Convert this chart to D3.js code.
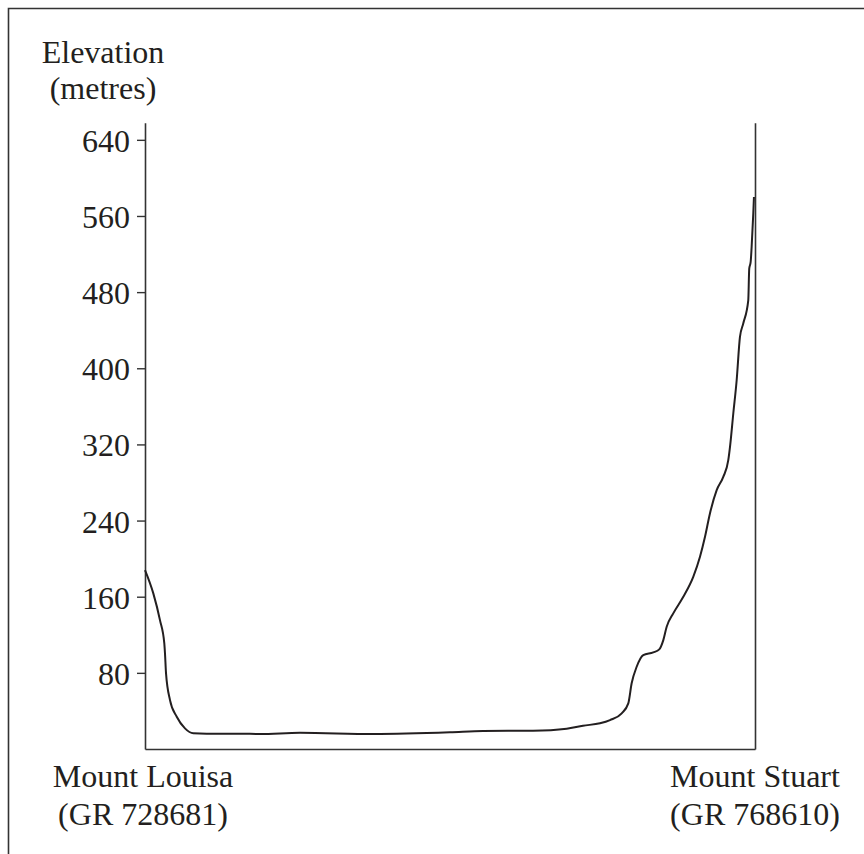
<!DOCTYPE html>
<html>
<head>
<meta charset="utf-8">
<script src="https://cdn.jsdelivr.net/npm/d3@7"></script>
<style>
  body { margin: 0; background: #fff; }
  text { font-family: "Liberation Serif", "Times New Roman", serif; fill: #231f20; }
</style>
</head>
<body>
<svg></svg>
<script>
// elevation profile, Mount Louisa -> Mount Stuart

let width = 864, height = 854;

// distance along the section (km) and elevation (m)
let distance = [0, 0.111, 0.200, 0.258, 0.267, 0.281, 0.334, 0.424, 0.534, 0.645,
  0.824, 1.269, 1.536, 2.071, 3.046, 4.075, 4.516, 5.184, 5.634, 5.852,
  6.079, 6.213, 6.369, 6.457, 6.502, 6.569, 6.657, 6.791, 6.871, 6.925,
  6.970, 7.058, 7.192, 7.325, 7.415, 7.482, 7.548, 7.638, 7.726, 7.793,
  7.816, 7.860, 7.905, 7.949, 7.993, 8.060, 8.073, 8.092, 8.105, 8.127, 8.136];
let elevation = [188, 163.5, 135.4, 110.9, 100.5, 79.5, 51.4, 33.9, 21.7, 16.5,
  16.1, 16.1, 15.7, 17.1, 15.7, 17.5, 18.9, 19.2, 21.3, 24.5,
  27.0, 30.4, 37.5, 48.0, 69.0, 86.4, 98.7, 101.5, 104.7, 114.4,
  128.4, 142.5, 159.9, 180.9, 201.9, 222.9, 247.5, 271.9, 285.9, 303.4,
  317.4, 352.5, 387.4, 432.9, 447.0, 471.4, 504.7, 511.7, 527.4, 562.5, 579.9];

let yTicks = [80, 160, 240, 320, 400, 480, 560, 640];
let yTitle = ["Elevation", "(metres)"];
let startLabel = ["Mount Louisa", "(GR 728681)"];
let endLabel = ["Mount Stuart", "(GR 768610)"];

let profile = distance.map((d, i) => ({dist: d, elev: elevation[i]}));

let svg = d3.select("svg")
  .attr("width", width)
  .attr("height", height);

let x = d3.scaleLinear()
  .domain([0, 8.15])
  .range([145, 755]);

let y = d3.scaleLinear()
  .domain([0, 658])
  .range([749, 122.7]);

// frame round the figure (right and bottom edges fall outside the picture)
svg.append("path")
  .attr("d", "M8.5," + (height + 10) + "V8.5H" + (width + 10))
  .attr("fill", "none")
  .attr("stroke", "#333")
  .attr("stroke-width", 1.6);

let yAxis = svg.append("g")
  .attr("transform", "translate(" + x.range()[0] + ",0)")
  .call(d3.axisLeft(y).tickValues(yTicks).tickSize(8).tickSizeOuter(0).tickPadding(7));

yAxis.selectAll("text")
  .attr("font-size", 32)
  .attr("font-family", "Liberation Serif")
  .attr("fill", "#231f20")
  .attr("dy", "0.36em");

svg.append("g")
  .attr("transform", "translate(0," + y(0) + ")")
  .call(d3.axisBottom(x).tickValues([]).tickSizeOuter(0));

svg.append("g")
  .attr("transform", "translate(" + x.range()[1] + ",0)")
  .call(d3.axisRight(y).tickValues([]).tickSizeOuter(0));

svg.selectAll(".domain")
  .attr("stroke", "#333")
  .attr("stroke-width", 1.6);
svg.selectAll(".tick line")
  .attr("stroke", "#333")
  .attr("stroke-width", 1.4);

let line = d3.line()
  .x(d => x(d.dist))
  .y(d => y(d.elev))
  .curve(d3.curveMonotoneX);

svg.append("path")
  .datum(profile)
  .attr("d", line)
  .attr("fill", "none")
  .attr("stroke", "#231f20")
  .attr("stroke-width", 2);

// axis title
svg.append("g")
  .selectAll("text")
  .data(yTitle)
  .enter()
  .append("text")
  .attr("x", 103)
  .attr("y", (d, i) => 63 + i * 36)
  .attr("text-anchor", "middle")
  .attr("font-size", 32)
  .text(d => d);

// place names under each end of the section
function endLabels(lines, xPos) {
  svg.append("g")
    .selectAll("text")
    .data(lines)
    .enter()
    .append("text")
    .attr("x", xPos)
    .attr("y", (d, i) => 787 + i * 38)
    .attr("text-anchor", "middle")
    .attr("font-size", 32)
    .text(d => d);
}
endLabels(startLabel, x(0) - 2);
endLabels(endLabel, x(8.15));
</script>
</body>
</html>
